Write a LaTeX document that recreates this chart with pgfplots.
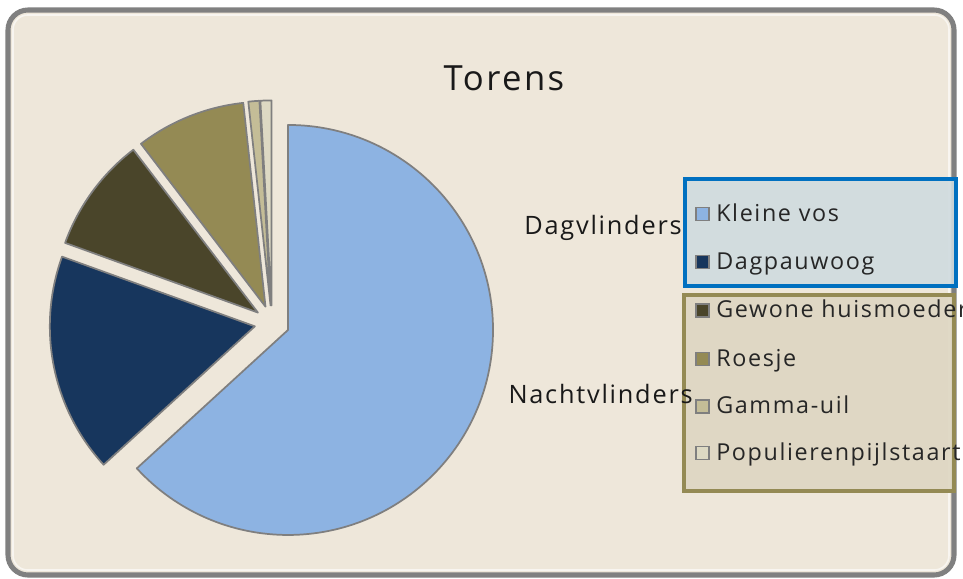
\documentclass[border=0pt]{standalone}
\usepackage{pgfplots}
\pgfplotsset{compat=1.18}
\usepackage{pgfplotstable}
\usepackage{fontspec}
\setmainfont{Open Sans}[LetterSpace=7]
\definecolor{cKleine}{HTML}{8DB3E2}
\definecolor{cDagpauw}{HTML}{17365D}
\definecolor{cHuis}{HTML}{4A452A}
\definecolor{cRoesje}{HTML}{948A54}
\definecolor{cGamma}{HTML}{C4BD97}
\definecolor{cPopul}{HTML}{DDD9C3}
\definecolor{slicegray}{HTML}{7F7F7F}
\definecolor{bgcol}{HTML}{EEE7DA}
\definecolor{framegray}{HTML}{808080}
\definecolor{legblue}{HTML}{0070C0}
\definecolor{legbluefill}{HTML}{CFDBDF}
\definecolor{legolive}{HTML}{948A54}
\definecolor{legolivefill}{HTML}{DED6C2}

% Torens: number of butterflies per species
\pgfplotstableread{
idx value col
0 146 cKleine
1 40 cDagpauw
2 21 cHuis
3 20 cRoesje
4 2 cGamma
5 2 cPopul
}\datatable

\begin{document}
\begin{tikzpicture}
\clip (0,0) rectangle (722.25pt,433.5pt);
\begin{axis}[
  at={(0,0)}, anchor=south west,
  scale only axis, width=722.25pt, height=433.5pt,
  xmin=0, xmax=963, ymin=0, ymax=578, y dir=reverse,
  axis lines=none, clip=false,
]
% background panel
\filldraw[fill=bgcol, draw=framegray, line width=3.8pt, rounded corners=15pt]
  (axis cs:8,10) rectangle (axis cs:954,575);
\draw[white, opacity=0.6, line width=1.2pt, rounded corners=11pt]
  (axis cs:13,15) rectangle (axis cs:949,570);
% title
\node[font=\fontsize{26}{30}\selectfont, anchor=base, text=black!90] at (axis cs:504,90) {Torens};

% pie slices (exploded)
\def\total{0}
\pgfplotsforeachungrouped \i in {0,...,5}{%
  \pgfplotstablegetelem{\i}{value}\of\datatable
  \pgfmathsetmacro\total{\total+\pgfplotsretval}%
}
\def\cum{0}
\pgfplotsforeachungrouped \i in {0,...,5}{%
  \pgfplotstablegetelem{\i}{value}\of\datatable
  \let\val=\pgfplotsretval
  \pgfplotstablegetelem{\i}{col}\of\datatable
  \let\col=\pgfplotsretval
  \pgfmathsetmacro\a{90-\cum/\total*360}%
  \pgfmathsetmacro\b{\a-\val/\total*360}%
  \pgfmathsetmacro\m{(\a+\b)/2}%
  \pgfmathsetmacro\ox{272+17.5*cos(\m)}%
  \pgfmathsetmacro\oy{322.9-17.5*sin(\m)}%
  \edef\temp{\noexpand\filldraw[fill=\col, draw=slicegray, line width=1.3pt, line join=round]
    (axis cs:\ox,\oy) -- ++(\a:153.75pt) arc[start angle=\a, end angle=\b, radius=153.75pt] -- cycle;}%
  \temp
  \pgfmathsetmacro\cum{\cum+\val}%
}
\end{axis}

% legend (pixel coordinates, y downwards)
\begin{scope}[shift={(0pt,433.5pt)}, x=0.75pt, y=-0.75pt]
\filldraw[fill=legbluefill, fill opacity=0.9, draw=legblue, line width=3pt]
  (685,179) rectangle (956,286);
\filldraw[fill=legolivefill, fill opacity=0.9, draw=legolive, line width=3pt]
  (684,295) rectangle (954,491);
\node[font=\fontsize{19}{22}\selectfont, anchor=base east, inner sep=0pt, text=black!90] at (682,235) {Dagvlinders};
\node[font=\fontsize{19}{22}\selectfont, anchor=base east, inner sep=0pt, text=black!90] at (693,404) {Nachtvlinders};
\foreach \y/\cc/\t in {214/cKleine/Kleine vos, 262/cDagpauw/Dagpauwoog, 310.5/cHuis/Gewone huismoeder, 359/cRoesje/Roesje, 406.5/cGamma/Gamma-uil, 453/cPopul/Populierenpijlstaart}{
  \filldraw[fill=\cc, draw=slicegray, line width=0.9pt] (696,\y-6.5) rectangle (709,\y+6.5);
  \node[font=\fontsize{17.5}{22}\selectfont, anchor=base west, inner sep=0pt, text=black!85] at (716,\y+7.5) {\t};
}
\end{scope}
\end{tikzpicture}
\end{document}
